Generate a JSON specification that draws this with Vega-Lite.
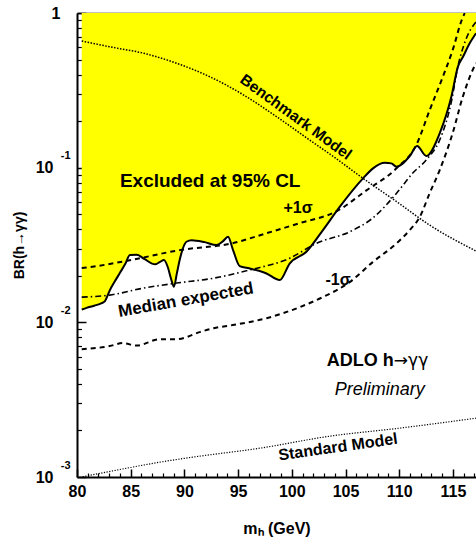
{
  "$schema": "https://vega.github.io/schema/vega-lite/v6.json",
  "width": 399,
  "height": 464,
  "autosize": {"type": "none"},
  "padding": {"left": 77, "top": 13, "right": 0, "bottom": 64},
  "background": "white",
  "config": {
    "view": {"stroke": null},
    "font": "Liberation Sans",
    "axis": {"grid": false, "zindex": 1, "labelFlush": false, "labelOverlap": false, "labelBound": false, "labelColor": "black", "titleColor": "black", "tickColor": "black", "domainColor": "black"}
  },
  "datasets": {
    "obs": [
      {"m": 80.44, "br": 0.0121}, {"m": 80.9, "br": 0.0124}, {"m": 81.6, "br": 0.0128}, {"m": 82.3, "br": 0.0133},
      {"m": 82.6, "br": 0.0137}, {"m": 83.07, "br": 0.0162}, {"m": 83.5, "br": 0.0183}, {"m": 84.0, "br": 0.0209},
      {"m": 84.5, "br": 0.0239}, {"m": 84.93, "br": 0.0272}, {"m": 85.56, "br": 0.0273}, {"m": 86.3, "br": 0.0256},
      {"m": 87.26, "br": 0.0237}, {"m": 87.7, "br": 0.0245}, {"m": 88.1, "br": 0.0253}, {"m": 88.45, "br": 0.0228},
      {"m": 88.75, "br": 0.0192}, {"m": 89.03, "br": 0.0170}, {"m": 89.3, "br": 0.0208}, {"m": 89.65, "br": 0.0268},
      {"m": 90.0, "br": 0.0318}, {"m": 90.19, "br": 0.0332}, {"m": 90.68, "br": 0.0340}, {"m": 91.89, "br": 0.0330},
      {"m": 92.98, "br": 0.0316}, {"m": 93.6, "br": 0.0335}, {"m": 94.06, "br": 0.0357}, {"m": 94.53, "br": 0.0293},
      {"m": 95.15, "br": 0.0231}, {"m": 96.08, "br": 0.0223}, {"m": 97.64, "br": 0.0207}, {"m": 98.87, "br": 0.01875},
      {"m": 99.8, "br": 0.0240}, {"m": 101.36, "br": 0.0286}, {"m": 102.9, "br": 0.0395}, {"m": 104.46, "br": 0.0558},
      {"m": 106.63, "br": 0.0853}, {"m": 107.56, "br": 0.099}, {"m": 108.65, "br": 0.1076}, {"m": 109.27, "br": 0.1066},
      {"m": 109.74, "br": 0.1014}, {"m": 111.0, "br": 0.119}, {"m": 111.66, "br": 0.138}, {"m": 112.53, "br": 0.119},
      {"m": 113.77, "br": 0.1667}, {"m": 114.86, "br": 0.288}, {"m": 115.47, "br": 0.45}, {"m": 115.94, "br": 0.521},
      {"m": 116.56, "br": 0.637}, {"m": 117.15, "br": 0.74}
    ],
    "up1": [
      {"m": 80.44, "br": 0.02244}, {"m": 81.83, "br": 0.0231}, {"m": 84.91, "br": 0.0252}, {"m": 89.56, "br": 0.0293},
      {"m": 94.5, "br": 0.0325}, {"m": 97.66, "br": 0.0377}, {"m": 100.74, "br": 0.0438}, {"m": 104.19, "br": 0.0524},
      {"m": 106.98, "br": 0.0716}, {"m": 109.77, "br": 0.0994}, {"m": 111.63, "br": 0.142}, {"m": 112.84, "br": 0.236},
      {"m": 114.05, "br": 0.385}, {"m": 114.98, "br": 0.576}, {"m": 115.82, "br": 0.90}, {"m": 116.1, "br": 1.0}
    ],
    "med": [
      {"m": 80.44, "br": 0.01455}, {"m": 83.04, "br": 0.0150}, {"m": 86.21, "br": 0.01665}, {"m": 89.28, "br": 0.01794},
      {"m": 92.73, "br": 0.0193}, {"m": 96.08, "br": 0.0218}, {"m": 99.81, "br": 0.0260}, {"m": 102.32, "br": 0.0325},
      {"m": 105.39, "br": 0.0385}, {"m": 107.53, "br": 0.0472}, {"m": 109.77, "br": 0.0685}, {"m": 111.26, "br": 0.0923},
      {"m": 112.56, "br": 0.113}, {"m": 113.77, "br": 0.151}, {"m": 114.89, "br": 0.2736}, {"m": 115.43, "br": 0.44},
      {"m": 116.19, "br": 0.669}, {"m": 117.15, "br": 0.875}
    ],
    "dn1": [
      {"m": 80.44, "br": 0.00671}, {"m": 83.04, "br": 0.00702}, {"m": 84.25, "br": 0.00734}, {"m": 85.56, "br": 0.00707},
      {"m": 87.7, "br": 0.00778}, {"m": 89.28, "br": 0.00778}, {"m": 91.42, "br": 0.00864}, {"m": 92.73, "br": 0.00917},
      {"m": 94.5, "br": 0.0096}, {"m": 97.66, "br": 0.01064}, {"m": 100.74, "br": 0.01254}, {"m": 102.88, "br": 0.01455},
      {"m": 105.39, "br": 0.0182}, {"m": 107.53, "br": 0.0245}, {"m": 109.77, "br": 0.0325}, {"m": 110.98, "br": 0.0395},
      {"m": 111.91, "br": 0.0479}, {"m": 112.84, "br": 0.0685}, {"m": 113.77, "br": 0.0965}, {"m": 114.98, "br": 0.1675},
      {"m": 115.91, "br": 0.286}, {"m": 116.56, "br": 0.385}, {"m": 117.15, "br": 0.475}
    ],
    "bench": [
      {"m": 80.44, "br": 0.659}, {"m": 83.04, "br": 0.605}, {"m": 86.21, "br": 0.549}, {"m": 89.28, "br": 0.473},
      {"m": 92.36, "br": 0.3873}, {"m": 95.52, "br": 0.2949}, {"m": 98.59, "br": 0.2134}, {"m": 101.66, "br": 0.1509},
      {"m": 103.9, "br": 0.1176}, {"m": 106.6, "br": 0.0856}, {"m": 109.77, "br": 0.0602}, {"m": 112.84, "br": 0.0425},
      {"m": 117.15, "br": 0.0289}
    ],
    "sm": [
      {"m": 80.53, "br": 0.001004}, {"m": 84.63, "br": 0.00114}, {"m": 87.7, "br": 0.001247}, {"m": 90.77, "br": 0.001344},
      {"m": 97.01, "br": 0.001535}, {"m": 103.53, "br": 0.001836}, {"m": 110.05, "br": 0.00207}, {"m": 117.15, "br": 0.0024}
    ],
    "one": [{}]
  },
  "layer": [
    {
      "data": {"name": "obs"},
      "mark": {"type": "area", "color": "#ffff00", "interpolate": "monotone", "clip": true},
      "encoding": {
        "x": {"field": "m", "type": "quantitative",
          "scale": {"domain": [80, 117.15], "nice": false, "zero": false},
          "axis": {"orient": "bottom", "values": [80, 85, 90, 95, 100, 105, 110, 115], "tickSize": -8, "tickWidth": 1.5,
            "labelFontSize": 16, "labelFontWeight": "bold", "labelPadding": 14, "domainWidth": 2,
            "title": "mₕ (GeV)", "titleFontSize": 16, "titleFontWeight": "bold", "titlePadding": 21}},
        "y": {"field": "br", "type": "quantitative",
          "scale": {"type": "log", "domain": [0.001, 1], "nice": false},
          "axis": {"orient": "left", "values": [0.001, 0.01, 0.1, 1],
            "labelExpr": "datum.value >= 1 ? '1' : '10'",
            "labelFontSize": 16, "labelFontWeight": "bold",
            "labelPadding": {"condition": {"test": "datum.value >= 1", "value": 26}, "value": 33},
            "tickSize": -9, "tickWidth": 1.5, "domainWidth": 2,
            "title": "BR(h→γγ)", "titleFontSize": 14, "titleFontWeight": "bold", "titlePadding": 9}},
        "y2": {"datum": 1}
      }
    },
    {
      "data": {"name": "obs"},
      "mark": {"type": "line", "color": "black", "strokeWidth": 2, "interpolate": "monotone", "clip": true},
      "encoding": {
        "x": {"field": "m", "type": "quantitative", "scale": {"domain": [80, 117.15], "nice": false, "zero": false},
          "axis": {"orient": "bottom", "values": [81, 82, 83, 84, 86, 87, 88, 89, 91, 92, 93, 94, 96, 97, 98, 99, 101, 102, 103, 104, 106, 107, 108, 109, 111, 112, 113, 114, 116, 117],
            "tickSize": -4, "tickWidth": 1.2, "labels": false, "domain": false, "title": null}},
        "y": {"field": "br", "type": "quantitative", "scale": {"type": "log", "domain": [0.001, 1], "nice": false},
          "axis": {"orient": "left", "values": [0.002, 0.003, 0.004, 0.005, 0.006, 0.007, 0.008, 0.009, 0.02, 0.03, 0.04, 0.05, 0.06, 0.07, 0.08, 0.09, 0.2, 0.3, 0.4, 0.5, 0.6, 0.7, 0.8, 0.9],
            "tickSize": -4.5, "tickWidth": 1.2, "labels": false, "domain": false, "title": null}}
      }
    },
    {
      "data": {"name": "up1"},
      "mark": {"type": "line", "color": "black", "strokeWidth": 2, "strokeDash": [5, 4], "interpolate": "monotone", "clip": true},
      "encoding": {
        "x": {"field": "m", "type": "quantitative", "scale": {"domain": [80, 117.15], "nice": false, "zero": false},
          "axis": {"orient": "top", "ticks": false, "labels": false, "domain": true, "domainWidth": 1.5, "title": null}},
        "y": {"field": "br", "type": "quantitative", "scale": {"type": "log", "domain": [0.001, 1], "nice": false},
          "axis": {"orient": "left", "values": [0.001, 0.01, 0.1], "labelExpr": "datum.value < 0.005 ? '-3' : datum.value < 0.05 ? '-2' : '-1'",
            "ticks": false, "domain": false, "labelFontSize": 11, "labelFontWeight": "bold", "labelPadding": 7, "labelOffset": -12, "title": null}}
      }
    },
    {
      "data": {"name": "med"},
      "mark": {"type": "line", "color": "black", "strokeWidth": 1.6, "strokeDash": [6, 3, 1.5, 3], "interpolate": "monotone", "clip": true},
      "encoding": {
        "x": {"field": "m", "type": "quantitative", "scale": {"domain": [80, 117.15], "nice": false, "zero": false}, "axis": null},
        "y": {"field": "br", "type": "quantitative", "scale": {"type": "log", "domain": [0.001, 1], "nice": false}, "axis": null}
      }
    },
    {
      "data": {"name": "dn1"},
      "mark": {"type": "line", "color": "black", "strokeWidth": 2, "strokeDash": [5, 4], "interpolate": "monotone", "clip": true},
      "encoding": {
        "x": {"field": "m", "type": "quantitative", "scale": {"domain": [80, 117.15], "nice": false, "zero": false}, "axis": null},
        "y": {"field": "br", "type": "quantitative", "scale": {"type": "log", "domain": [0.001, 1], "nice": false}, "axis": null}
      }
    },
    {
      "data": {"name": "bench"},
      "mark": {"type": "line", "color": "black", "strokeWidth": 1.5, "strokeDash": [1.5, 1.5], "interpolate": "monotone", "clip": true},
      "encoding": {
        "x": {"field": "m", "type": "quantitative", "scale": {"domain": [80, 117.15], "nice": false, "zero": false}, "axis": null},
        "y": {"field": "br", "type": "quantitative", "scale": {"type": "log", "domain": [0.001, 1], "nice": false}, "axis": null}
      }
    },
    {
      "data": {"name": "sm"},
      "mark": {"type": "line", "color": "black", "strokeWidth": 1.2, "strokeDash": [1.2, 1.5], "interpolate": "monotone", "clip": true},
      "encoding": {
        "x": {"field": "m", "type": "quantitative", "scale": {"domain": [80, 117.15], "nice": false, "zero": false}, "axis": null},
        "y": {"field": "br", "type": "quantitative", "scale": {"type": "log", "domain": [0.001, 1], "nice": false}, "axis": null}
      }
    },
    {
      "data": {"name": "one"},
      "mark": {"type": "text", "text": "Excluded at 95% CL", "fontSize": 19, "fontWeight": "bold", "align": "center", "baseline": "middle", "color": "black"},
      "encoding": {"x": {"datum": 92.4, "type": "quantitative", "axis": null}, "y": {"datum": 0.0819, "type": "quantitative", "axis": null}}
    },
    {
      "data": {"name": "one"},
      "mark": {"type": "text", "text": "+1σ", "fontSize": 16, "fontWeight": "bold", "align": "center", "baseline": "middle", "color": "black"},
      "encoding": {"x": {"datum": 100.58, "type": "quantitative", "axis": null}, "y": {"datum": 0.0548, "type": "quantitative", "axis": null}}
    },
    {
      "data": {"name": "one"},
      "mark": {"type": "text", "text": "-1σ", "fontSize": 16, "fontWeight": "bold", "align": "center", "baseline": "middle", "color": "black"},
      "encoding": {"x": {"datum": 104.3, "type": "quantitative", "axis": null}, "y": {"datum": 0.01875, "type": "quantitative", "axis": null}}
    },
    {
      "data": {"name": "one"},
      "mark": {"type": "text", "text": "Median expected", "fontSize": 17, "fontWeight": "bold", "align": "center", "baseline": "middle", "angle": 350, "color": "black"},
      "encoding": {"x": {"datum": 90.14, "type": "quantitative", "axis": null}, "y": {"datum": 0.01392, "type": "quantitative", "axis": null}}
    },
    {
      "data": {"name": "one"},
      "mark": {"type": "text", "text": "Benchmark Model", "fontSize": 15.5, "fontWeight": "bold", "align": "center", "baseline": "middle", "angle": 36, "color": "black"},
      "encoding": {"x": {"datum": 100.38, "type": "quantitative", "axis": null}, "y": {"datum": 0.2125, "type": "quantitative", "axis": null}}
    },
    {
      "data": {"name": "one"},
      "mark": {"type": "text", "text": "Standard Model", "fontSize": 16, "fontWeight": "bold", "align": "center", "baseline": "middle", "angle": 352, "color": "black"},
      "encoding": {"x": {"datum": 104.3, "type": "quantitative", "axis": null}, "y": {"datum": 0.00156, "type": "quantitative", "axis": null}}
    },
    {
      "data": {"name": "one"},
      "mark": {"type": "text", "text": "ADLO h", "fontSize": 18, "fontWeight": "bold", "align": "right", "baseline": "middle", "color": "black"},
      "encoding": {"x": {"datum": 109.5, "type": "quantitative", "axis": null}, "y": {"datum": 0.00561, "type": "quantitative", "axis": null}}
    },
    {
      "data": {"name": "one"},
      "mark": {"type": "text", "text": "→γγ", "font": "DejaVu Sans", "fontSize": 17, "fontWeight": "normal", "align": "left", "baseline": "middle", "color": "black"},
      "encoding": {"x": {"datum": 109.5, "type": "quantitative", "axis": null}, "y": {"datum": 0.00561, "type": "quantitative", "axis": null}}
    },
    {
      "data": {"name": "one"},
      "mark": {"type": "text", "text": "Preliminary", "fontSize": 18, "fontStyle": "italic", "align": "center", "baseline": "middle", "color": "black"},
      "encoding": {"x": {"datum": 108.18, "type": "quantitative", "axis": null}, "y": {"datum": 0.00364, "type": "quantitative", "axis": null}}
    }
  ],
  "resolve": {"axis": {"x": "independent", "y": "independent"}}
}
